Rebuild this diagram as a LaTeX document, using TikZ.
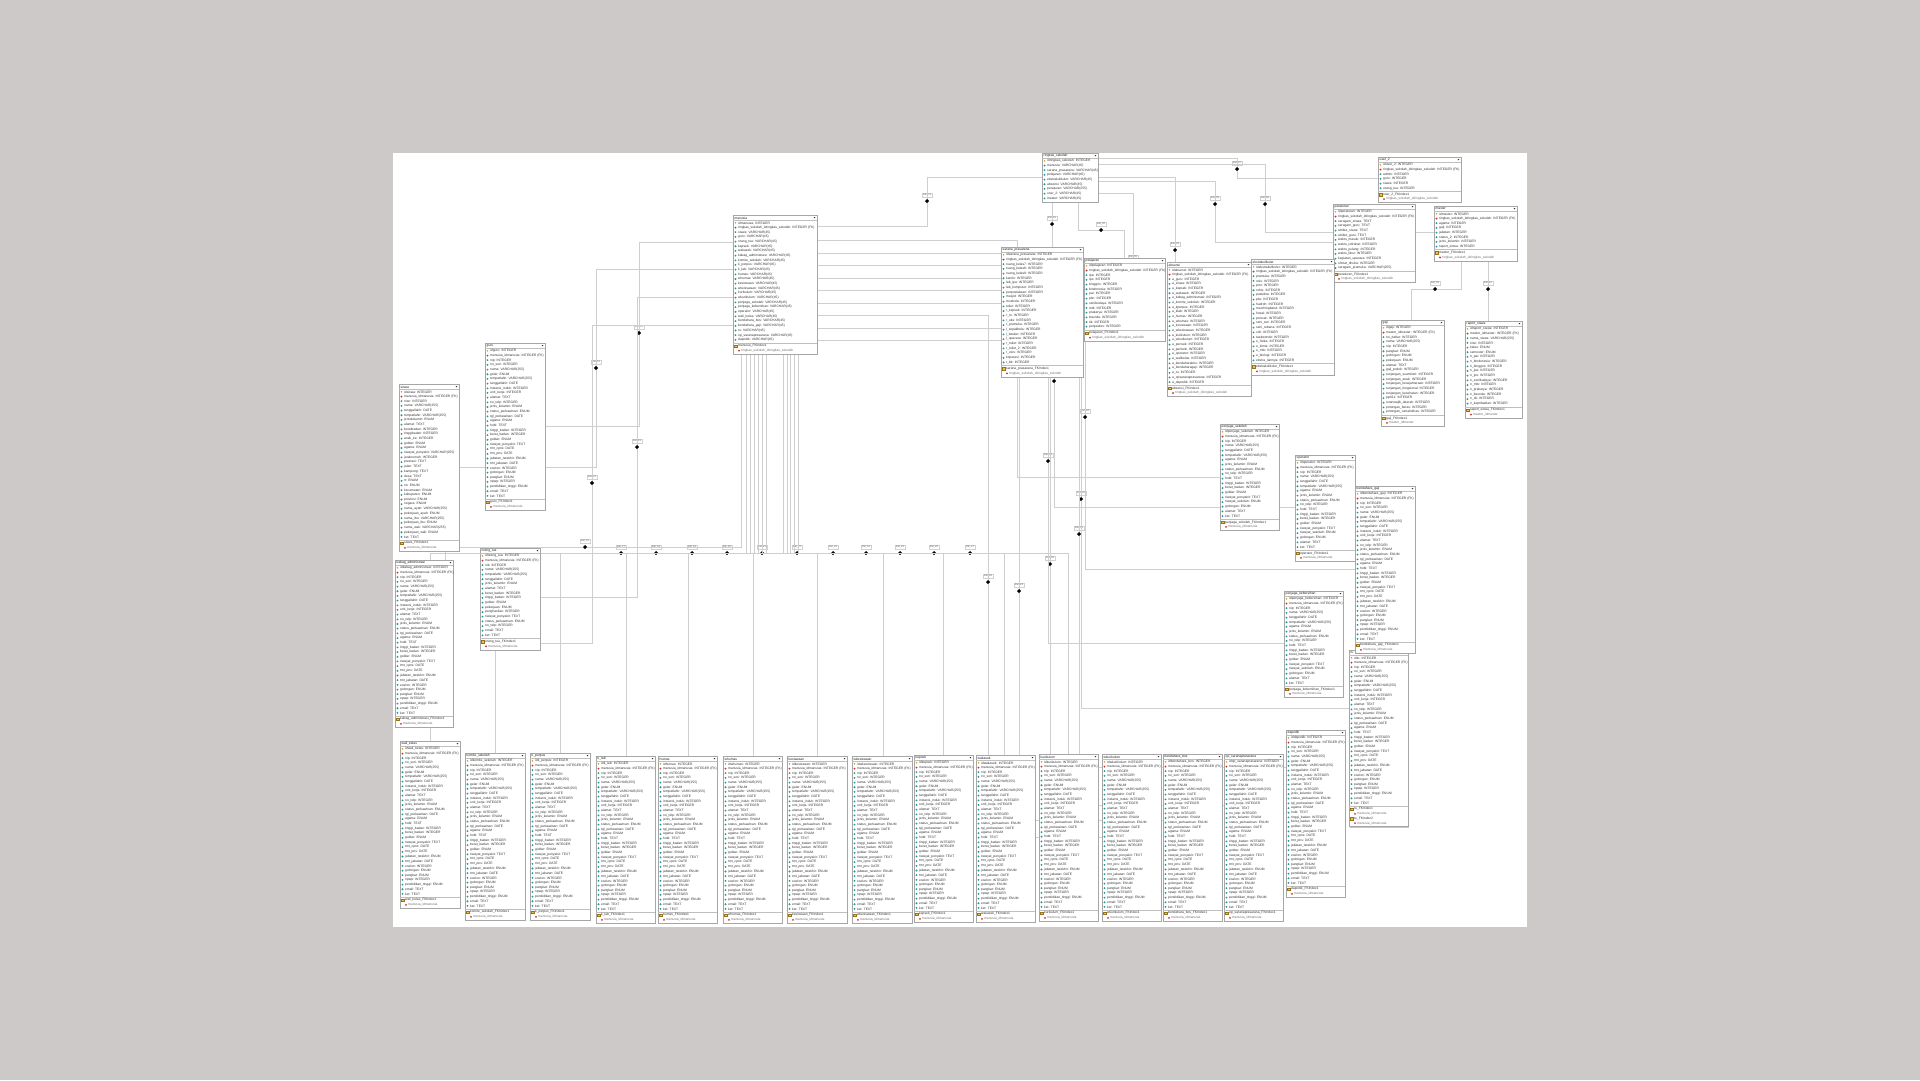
\documentclass[tikz,border=0pt]{standalone}
\usepackage{xcolor}
\usepackage{fontspec}
\usepackage{tikz}
\usetikzlibrary{shapes}
\usetikzlibrary{shadows}
\newfontfamily\erfont{Liberation Sans}
\definecolor{pagebg}{RGB}{205,201,201}
\definecolor{keycol}{RGB}{214,165,35}
\definecolor{fkcol}{RGB}{205,45,45}
\definecolor{atcol}{RGB}{40,150,150}
\definecolor{dircol}{RGB}{240,195,70}
\tikzstyle{tblbox}=[rectangle,draw=black!35,fill=white,line width=0.5pt,inner sep=0pt,drop shadow={shadow xshift=0.8pt,shadow yshift=-0.8pt,fill=black!22,opacity=1}]
\tikzstyle{tblline}=[draw=black!25,line width=0.4pt]
\tikzstyle{rowtxt}=[anchor=west,inner sep=0pt,font=\erfont\fontsize{3.3}{3.6}\selectfont,text=black!80]
\tikzstyle{tbltitle}=[anchor=west,inner sep=0pt,font=\erfont\fontsize{3.3}{3.6}\selectfont,text=black!90]
\tikzstyle{pkicon}=[circle,fill=keycol,inner sep=0pt,minimum size=1.8pt]
\tikzstyle{fkicon}=[diamond,fill=fkcol,inner sep=0pt,minimum size=2.2pt]
\tikzstyle{aticon}=[diamond,fill=atcol,inner sep=0pt,minimum size=2.2pt]
\tikzstyle{ixicon}=[rectangle,fill=dircol,draw=keycol!70!black,line width=0.2pt,inner sep=0pt,minimum width=3pt,minimum height=2.4pt]
\tikzstyle{link}=[draw=black!19,line width=0.9pt]
\tikzstyle{reldia}=[diamond,fill=black,inner sep=0pt,minimum size=4.2pt]
\tikzstyle{rellbl}=[draw=black!18,fill=white,inner sep=0.7pt,line width=0.3pt,font=\erfont\fontsize{2.6}{3}\selectfont,text=black!60]
\pgfdeclarelayer{canvas}
\pgfdeclarelayer{links}
\pgfsetlayers{canvas,links,main}
\newcount\tblattr
\newcount\tblidx
\newcount\tblrow
\def\rowh{4.68}
\catcode`\_=12

% one table: name, x, y (top left), width, rows
\newcommand\dbtable[5]{%
  \global\tblattr=0 \global\tblidx=0 \global\tblrow=0
  \begingroup
    \def\rk##1{\global\advance\tblattr by 1 }%
    \let\rf\rk \let\ra\rk
    \def\ri##1{\global\advance\tblidx by 1 }%
    \let\rc\ri
    #5%
  \endgroup
  \pgfmathsetmacro\tblh{5.5+\the\tblattr*\rowh+1+(\the\tblidx>0)*(1.5+\the\tblidx*\rowh)}%
  \node[tblbox,minimum width=#4,minimum height=\tblh,anchor=north west] (#1) at (#2,#3) {};
  \draw[tblline] (#2,#3+5.5) -- (#2+#4,#3+5.5);
  \node[tbltitle] at (#2+1.5,#3+2.9) {#1};
  \fill[black!80] (#2+#4-3.4,#3+2.2) -- ++(1.8,0) -- ++(-0.9,1.1) -- cycle;
  \ifnum\tblidx>0
    \pgfmathsetmacro\sepy{#3+5.5+\the\tblattr*\rowh+0.75}%
    \draw[tblline] (#2,\sepy) -- (#2+#4,\sepy);
  \fi
  \begingroup
    \def\nextrow##1{\global\advance\tblrow by 1 \pgfmathsetmacro\ry{#3+5.5+(\the\tblrow-0.5)*\rowh+##1}}%
    \def\rk##1{\nextrow{0}\node[pkicon] at (#2+2.5,\ry) {}; \node[rowtxt] at (#2+5,\ry) {##1};}%
    \def\rf##1{\nextrow{0}\node[fkicon] at (#2+2.5,\ry) {}; \node[rowtxt] at (#2+5,\ry) {##1};}%
    \def\ra##1{\nextrow{0}\node[aticon] at (#2+2.5,\ry) {}; \node[rowtxt] at (#2+5,\ry) {##1};}%
    \def\ri##1{\nextrow{1.5}\node[ixicon] at (#2+2.5,\ry) {}; \node[rowtxt] at (#2+5,\ry) {##1};}%
    \def\rc##1{\nextrow{1.5}\node[fkicon] at (#2+6,\ry) {}; \node[rowtxt,text=black!55] at (#2+8,\ry) {##1};}%
    #5%
  \endgroup
}

% staff tables hanging on manusia
\newcommand\staff[5]{\dbtable{#2}{#3}{#4}{#5}{\rk{id#2: INTEGER}\rf{manusia_idmanusia: INTEGER (FK)}#1\ri{#2_FKIndex1}\rc{manusia_idmanusia}}}

\newcommand\relmark[4]{\node[reldia,label={[rellbl,label distance=1.6pt]above:#4}] (#1) at (#2,#3) {};}

\def\pegawai{\ra{nip: INTEGER}\ra{no_seri: INTEGER}\ra{nama: VARCHAR(255)}\ra{gelar: ENUM}\ra{tempatlahir: VARCHAR(255)}\ra{tanggallahir: DATE}\ra{instansi_induk: INTEGER}\ra{unit_kerja: INTEGER}\ra{alamat: TEXT}\ra{no_telp: INTEGER}\ra{jenis_kelamin: ENUM}\ra{status_perkawinan: ENUM}\ra{tgl_perkawinan: DATE}\ra{agama: ENUM}\ra{hobi: TEXT}\ra{tinggi_badan: INTEGER}\ra{berat_badan: INTEGER}\ra{goldar: ENUM}\ra{riwayat_penyakit: TEXT}\ra{tmt_cpns: DATE}\ra{tmt_pns: DATE}\ra{jabatan_terakhir: ENUM}\ra{tmt_jabatan: DATE}\ra{eselon: INTEGER}\ra{golongan: ENUM}\ra{pangkat: ENUM}\ra{npwp: INTEGER}\ra{pendidikan_tinggi: ENUM}\ra{email: TEXT}\ra{ket: TEXT}}

\def\penjaga{\ra{nip: INTEGER}\ra{nama: VARCHAR(255)}\ra{tanggallahir: DATE}\ra{tempatlahir: VARCHAR(255)}\ra{agama: ENUM}\ra{jenis_kelamin: ENUM}\ra{status_perkawinan: ENUM}\ra{no_telp: INTEGER}\ra{hobi: TEXT}\ra{tinggi_badan: INTEGER}\ra{berat_badan: INTEGER}\ra{goldar: ENUM}\ra{riwayat_penyakit: TEXT}\ra{riwayat_sekolah: ENUM}\ra{golongan: ENUM}\ra{alamat: TEXT}\ra{ket: TEXT}}

\begin{document}
\begin{tikzpicture}[x=1pt,y=-1pt]
\begin{pgfonlayer}{canvas}
\fill[pagebg] (0,0) rectangle (1920,1080);
\fill[white] (393,153) rectangle (1527,927);
\end{pgfonlayer}
\useasboundingbox (0,0) rectangle (1920,1080);

%top row
\dbtable{ringkas_sekolah}{1042}{153}{56}{\rk{idringkas_sekolah: INTEGER}\ra{manusia: VARCHAR(45)}\ra{sarana_prasarana: VARCHAR(45)}\ra{pelajaran: VARCHAR(45)}\ra{ekstrakulikuler: VARCHAR(45)}\ra{absensi: VARCHAR(45)}\ra{peraturan: VARCHAR(255)}\ra{user_2: VARCHAR(45)}\ra{master: VARCHAR(45)}}

\dbtable{user_2}{1378}{157}{83}{\rk{iduser_2: INTEGER}\rf{ringkas_sekolah_idringkas_sekolah: INTEGER (FK)}\ra{admin: INTEGER}\ra{guru: INTEGER}\ra{siswa: INTEGER}\ra{orang_tua: INTEGER}\ri{user_2_FKIndex1}\rc{ringkas_sekolah_idringkas_sekolah}}

\dbtable{peraturan}{1333}{204}{82}{\rk{idperaturan: INTEGER}\rf{ringkas_sekolah_idringkas_sekolah: INTEGER (FK)}\ra{seragam_siswa: TEXT}\ra{seragam_guru: TEXT}\ra{atribut_siswa: TEXT}\ra{atribut_guru: TEXT}\ra{waktu_masuk: INTEGER}\ra{waktu_istirahat: INTEGER}\ra{waktu_pulang: INTEGER}\ra{waktu_libur: INTEGER}\ra{kegiatan_upacara: INTEGER}\ra{sholat_dhuha: INTEGER}\ra{seragam_pramuka: VARCHAR(255)}\ri{peraturan_FKIndex1}\rc{ringkas_sekolah_idringkas_sekolah}}

\dbtable{master}{1434}{206}{83}{\rk{idmaster: INTEGER}\rf{ringkas_sekolah_idringkas_sekolah: INTEGER (FK)}\ra{agama: INTEGER}\ra{gaji: INTEGER}\ra{jabatan: INTEGER}\ra{status_2: INTEGER}\ra{jenis_kelamin: INTEGER}\ra{raport_siswa: INTEGER}\ri{master_FKIndex1}\rc{ringkas_sekolah_idringkas_sekolah}}

\dbtable{manusia}{733}{215}{84}{\rk{idmanusia: INTEGER}\rf{ringkas_sekolah_idringkas_sekolah: INTEGER (FK)}\ra{siswa: VARCHAR(45)}\ra{guru: VARCHAR(45)}\ra{orang_tua: VARCHAR(45)}\ra{kepsek: VARCHAR(45)}\ra{wakasek: VARCHAR(45)}\ra{kabag_administrasi: VARCHAR(45)}\ra{komite_sekolah: VARCHAR(45)}\ra{k_perpus: VARCHAR(45)}\ra{k_lab: VARCHAR(45)}\ra{humas: VARCHAR(45)}\ra{whumas: VARCHAR(45)}\ra{kesiswaan: VARCHAR(45)}\ra{wkesiswaan: VARCHAR(45)}\ra{kurikulum: VARCHAR(45)}\ra{wkurikulum: VARCHAR(45)}\ra{penjaga_sekolah: VARCHAR(45)}\ra{penjaga_kebersihan: VARCHAR(45)}\ra{operator: VARCHAR(45)}\ra{wali_kelas: VARCHAR(45)}\ra{bendahara_bos: VARCHAR(45)}\ra{bendahara_gaji: VARCHAR(45)}\ra{tu: VARCHAR(45)}\ra{op_saranaprasarana: VARCHAR(45)}\ra{dapodik: VARCHAR(45)}\ri{manusia_FKIndex1}\rc{ringkas_sekolah_idringkas_sekolah}}

\dbtable{sarana_prasarana}{1001}{247}{82}{\rk{idsarana_prasarana: INTEGER}\rf{ringkas_sekolah_idringkas_sekolah: INTEGER (FK)}\ra{ruang_kelas7: INTEGER}\ra{ruang_kelas8: INTEGER}\ra{ruang_kelas9: INTEGER}\ra{kantin: INTEGER}\ra{lab_ipa: INTEGER}\ra{lab_komputer: INTEGER}\ra{perpustakaan: INTEGER}\ra{masjid: INTEGER}\ra{mushola: INTEGER}\ra{toilet: INTEGER}\ra{r_kepsek: INTEGER}\ra{r_tu: INTEGER}\ra{r_uks: INTEGER}\ra{r_pramuka: INTEGER}\ra{l_sepakbola: INTEGER}\ra{l_basket: INTEGER}\ra{l_upacara: INTEGER}\ra{r_toilet: INTEGER}\ra{r_toilet_2: INTEGER}\ra{r_osis: INTEGER}\ra{koperasi: INTEGER}\ra{r_bk: INTEGER}\ri{sarana_prasarana_FKIndex1}\rc{ringkas_sekolah_idringkas_sekolah}}

\dbtable{pelajaran}{1084}{258}{81}{\rk{idpelajaran: INTEGER}\rf{ringkas_sekolah_idringkas_sekolah: INTEGER (FK)}\ra{ipa: INTEGER}\ra{ips: INTEGER}\ra{binggris: INTEGER}\ra{bindonesia: INTEGER}\ra{pai: INTEGER}\ra{pkn: INTEGER}\ra{senibudaya: INTEGER}\ra{mtk: INTEGER}\ra{prakarya: INTEGER}\ra{bsunda: INTEGER}\ra{tik: INTEGER}\ra{penjaskes: INTEGER}\ri{pelajaran_FKIndex1}\rc{ringkas_sekolah_idringkas_sekolah}}

\dbtable{absensi}{1167}{262}{84}{\rk{idabsensi: INTEGER}\rf{ringkas_sekolah_idringkas_sekolah: INTEGER (FK)}\ra{a_guru: INTEGER}\ra{a_siswa: INTEGER}\ra{a_kepsek: INTEGER}\ra{a_wakasek: INTEGER}\ra{a_kabag_administrasi: INTEGER}\ra{a_komite_sekolah: INTEGER}\ra{a_kperpus: INTEGER}\ra{a_klab: INTEGER}\ra{a_humas: INTEGER}\ra{a_whumas: INTEGER}\ra{a_kesiswaan: INTEGER}\ra{a_wkesiswaan: INTEGER}\ra{a_kurikulum: INTEGER}\ra{a_wkurikulum: INTEGER}\ra{a_pensek: INTEGER}\ra{a_penkeb: INTEGER}\ra{a_operator: INTEGER}\ra{a_walikelas: INTEGER}\ra{a_bendaharabos: INTEGER}\ra{a_bendaharagaji: INTEGER}\ra{a_tu: INTEGER}\ra{a_opsaranaprasarana: INTEGER}\ra{a_dapodik: INTEGER}\ri{absensi_FKIndex1}\rc{ringkas_sekolah_idringkas_sekolah}}

\dbtable{ekstrakulikuler}{1251}{259}{83}{\rk{idekstrakulikuler: INTEGER}\rf{ringkas_sekolah_idringkas_sekolah: INTEGER (FK)}\ra{pramuka: INTEGER}\ra{osis: INTEGER}\ra{pmr: INTEGER}\ra{rohis: INTEGER}\ra{paskibra: INTEGER}\ra{pks: INTEGER}\ra{hadroh: INTEGER}\ra{marchingband: INTEGER}\ra{futsal: INTEGER}\ra{pencak: INTEGER}\ra{seni_tari: INTEGER}\ra{seni_rebana: INTEGER}\ra{voli: INTEGER}\ra{taekwondo: INTEGER}\ra{e_fisika: INTEGER}\ra{e_kimia: INTEGER}\ra{e_mtk: INTEGER}\ra{e_biologi: INTEGER}\ra{ekstra_lainnya: INTEGER}\ri{ekstrakulikuler_FKIndex1}\rc{ringkas_sekolah_idringkas_sekolah}}

\dbtable{gaji}{1381}{320}{63}{\rk{idgaji: INTEGER}\rf{master_idmaster: INTEGER (FK)}\ra{no_daftar: INTEGER}\ra{nama: VARCHAR(255)}\ra{nip: INTEGER}\ra{pangkat: ENUM}\ra{golongan: ENUM}\ra{pekerjaan: ENUM}\ra{alamat: TEXT}\ra{gaji_pokok: INTEGER}\ra{tunjangan_suamiistri: INTEGER}\ra{tunjangan_anak: INTEGER}\ra{tunjangan_kesejahteraan: INTEGER}\ra{tunjangan_fungsional: INTEGER}\ra{tunjangan_kesehatan: INTEGER}\ra{pph21: INTEGER}\ra{iuranwajib_daerah: INTEGER}\ra{potongan_beras: INTEGER}\ra{potongan_rumahdinas: INTEGER}\ri{gaji_FKIndex1}\rc{master_idmaster}}

\dbtable{raport_siswa}{1465}{321}{57}{\rk{idraport_siswa: INTEGER}\rf{master_idmaster: INTEGER (FK)}\ra{nama_siswa: VARCHAR(255)}\ra{nisn: INTEGER}\ra{kelas: ENUM}\ra{semester: ENUM}\ra{n_pai: INTEGER}\ra{n_bindonesia: INTEGER}\ra{n_binggris: INTEGER}\ra{n_ipa: INTEGER}\ra{n_ips: INTEGER}\ra{n_senibudaya: INTEGER}\ra{n_mtk: INTEGER}\ra{n_prakarya: INTEGER}\ra{n_bsunda: INTEGER}\ra{n_tik: INTEGER}\ra{n_kepribadian: INTEGER}\ri{raport_siswa_FKIndex1}\rc{master_idmaster}}

%left side
\staff{\pegawai}{guru}{485}{343}{60}

\dbtable{siswa}{399}{384}{60}{\rk{idsiswa: INTEGER}\rf{manusia_idmanusia: INTEGER (FK)}\ra{nisn: INTEGER}\ra{nama: VARCHAR(255)}\ra{tanggallahir: DATE}\ra{tempatlahir: VARCHAR(255)}\ra{jeniskelamin: ENUM}\ra{alamat: TEXT}\ra{beratbadan: INTEGER}\ra{tinggibadan: INTEGER}\ra{anak_ke: INTEGER}\ra{goldar: ENUM}\ra{agama: ENUM}\ra{riwayat_penyakit: VARCHAR(255)}\ra{jarakrumah: INTEGER}\ra{prestasi: TEXT}\ra{jalan: TEXT}\ra{kampung: TEXT}\ra{desa: TEXT}\ra{rt: ENUM}\ra{rw: ENUM}\ra{kecamatan: ENUM}\ra{kabupaten: ENUM}\ra{provinsi: ENUM}\ra{negara: ENUM}\ra{nama_ayah: VARCHAR(255)}\ra{pekerjaan_ayah: ENUM}\ra{nama_ibu: VARCHAR(255)}\ra{pekerjaan_ibu: ENUM}\ra{nama_wali: VARCHAR(255)}\ra{pekerjaan_wali: ENUM}\ra{ket: TEXT}\ri{siswa_FKIndex1}\rc{manusia_idmanusia}}

\dbtable{orang_tua}{480}{548}{60}{\rk{idorang_tua: INTEGER}\rf{manusia_idmanusia: INTEGER (FK)}\ra{nik: INTEGER}\ra{nama: VARCHAR(255)}\ra{tempatlahir: VARCHAR(255)}\ra{tanggallahir: DATE}\ra{jenis_kelamin: ENUM}\ra{alamat: TEXT}\ra{berat_badan: INTEGER}\ra{tinggi_badan: INTEGER}\ra{goldar: ENUM}\ra{pekerjaan: ENUM}\ra{penghasilan: INTEGER}\ra{riwayat_penyakit: TEXT}\ra{status_perkawinan: ENUM}\ra{no_telp: INTEGER}\ra{email: TEXT}\ra{ket: TEXT}\ri{orang_tua_FKIndex1}\rc{manusia_idmanusia}}

\staff{\pegawai}{kabag_administrasi}{395}{560}{58}

%bottom row
\staff{\pegawai}{wali_kelas}{400}{741}{60}
\staff{\pegawai}{komite_sekolah}{465}{753}{60}
\staff{\pegawai}{k_perpus}{530}{753}{60}
\staff{\pegawai}{k_lab}{596}{756}{59}
\staff{\pegawai}{humas}{658}{756}{59}
\staff{\pegawai}{whumas}{723}{756}{59}
\staff{\pegawai}{kesiswaan}{787}{756}{60}
\staff{\pegawai}{wkesiswaan}{852}{756}{60}
\staff{\pegawai}{kepsek}{914}{755}{59}
\staff{\pegawai}{wakasek}{976}{755}{59}
\staff{\pegawai}{kurikulum}{1039}{754}{59}
\staff{\pegawai}{wkurikulum}{1102}{754}{59}
\staff{\pegawai}{bendahara_bos}{1163}{754}{59}
\staff{\pegawai}{op_saranaprasarana}{1224}{754}{59}
\staff{\pegawai}{dapodik}{1286}{730}{59}

\dbtable{tu}{1349}{650}{59}{\rk{idtu: INTEGER}\rf{manusia_idmanusia: INTEGER (FK)}\pegawai\ri{tu_FKIndex1}\rc{manusia_idmanusia}\ri{tu_FKIndex2}\rc{manusia_idmanusia}}

%right side
\staff{\penjaga}{penjaga_sekolah}{1220}{424}{59}
\staff{\penjaga}{operator}{1295}{455}{60}
\staff{\pegawai}{bendahara_gaji}{1355}{486}{60}
\staff{\penjaga}{penjaga_kebersihan}{1284}{591}{59}

\begin{pgfonlayer}{links}
%ringkas_sekolah
\relmark{rel01}{1052}{224}{Rel_01}
\relmark{rel02}{1101}{230}{Rel_02}
\relmark{rel03}{1175}{250}{Rel_03}
\relmark{rel05}{1133}{263}{Rel_05}
\relmark{rel06}{1215}{204}{Rel_06}
\relmark{rel07}{1237}{169}{Rel_07}
\relmark{rel08}{1265}{204}{Rel_08}
\relmark{rel11}{927}{201}{Rel_11}
\draw[link] (ringkas_sekolah.south -| rel01) -- (rel01) -- (sarana_prasarana.north -| rel01);
\draw[link] (ringkas_sekolah.south -| 1078,0) |- (rel02) -| (pelajaran.north -| 1124,0);
\draw[link] (ringkas_sekolah.east |- 0,177) -| (rel03) -- (absensi.north -| rel03);
\draw[link] (ringkas_sekolah.east |- 0,193) -| (pelajaran.north -| rel05);
\draw[link] (ringkas_sekolah.east |- 0,181) -| (rel06) |- (peraturan.west |- 0,242);
\draw[link] (ringkas_sekolah.east |- 0,158) -| (rel07) |- (user_2.west |- 0,178);
\draw[link] (ringkas_sekolah.east |- 0,164) -| (rel08) |- (master.west |- 0,232);
\draw[link] (ringkas_sekolah.west |- 0,177) -| (rel11) |- (manusia.east |- 0,226);

%master
\relmark{rel09}{1435}{289}{Rel_09}
\relmark{rel10}{1488}{289}{Rel_10}
\draw[link] (master.south -| 1461,0) |- (rel09) -| (gaji.north -| 1411,0);
\draw[link] (master.south -| rel10) -- (rel10) -- (raport_siswa.north -| rel10);

%manusia, left
\relmark{rel12}{596}{368}{Rel_12}
\relmark{rel13}{639}{333}{Rel_13}
\relmark{rel14}{592}{483}{Rel_14}
\relmark{rel15}{637}{447}{Rel_15}
\draw[link] (manusia.west |- 0,242) -| (rel13) |- (guru.east |- 0,426);
\draw[link] (manusia.west |- 0,269) -| (rel12) |- (siswa.east |- 0,467);
\draw[link] (manusia.west |- 0,297) -| (rel15) |- (orang_tua.east |- 0,597);
\draw[link] (manusia.west |- 0,325) -| (rel14) |- (orang_tua.east |- 0,643);

%manusia, bottom
\relmark{rel16}{585}{547}{Rel_16}
\relmark{rel17}{621}{553}{Rel_17}
\relmark{rel18}{656}{553}{Rel_18}
\relmark{rel19}{692}{553}{Rel_19}
\relmark{rel20}{727}{553}{Rel_20}
\relmark{rel21}{762}{553}{Rel_21}
\relmark{rel22}{797}{553}{Rel_22}
\relmark{rel23}{833}{553}{Rel_23}
\relmark{rel24}{866}{553}{Rel_24}
\relmark{rel25}{900}{553}{Rel_25}
\relmark{rel26}{934}{553}{Rel_26}
\relmark{rel27}{970}{553}{Rel_27}
\draw[link] (manusia.south -| 741,0) |- (rel16) -| (kabag_administrasi.north -| 445,0);
\draw[link] (manusia.south -| 746,0) |- (rel17) -| (wali_kelas.north -| 430,0);
\draw[link] (manusia.south -| 750,0) |- (rel18) -| (komite_sekolah.north -| 495,0);
\draw[link] (manusia.south -| 754,0) |- (rel19) -| (k_perpus.north -| 560,0);
\draw[link] (manusia.south -| 758,0) |- (rel20) -| (k_lab.north -| 626,0);
\draw[link] (manusia.south -| 762,0) |- (rel21) -| (humas.north -| 688,0);
\draw[link] (manusia.south -| 766,0) |- (rel22) -| (whumas.north -| 753,0);
\draw[link] (manusia.south -| 783,0) |- (rel23) -| (kesiswaan.north -| 817,0);
\draw[link] (manusia.south -| 787,0) |- (rel24) -| (wkesiswaan.north -| 883,0);
\draw[link] (manusia.south -| 790,0) |- (rel25) -| (kepsek.north -| 943,0);
\draw[link] (manusia.south -| 794,0) |- (rel26) -| (wakasek.north -| 1004,0);
\draw[link] (manusia.south -| 798,0) |- (rel27) -| (kurikulum.north -| 1068,0);

%manusia, right
\relmark{rel28}{988}{582}{Rel_28}
\relmark{rel29}{1019}{591}{Rel_29}
\relmark{rel30}{1050}{564}{Rel_30}
\relmark{rel31}{1081}{499}{Rel_31}
\relmark{rel32}{1079}{534}{Rel_32}
\relmark{rel33}{1048}{461}{Rel_33}
\relmark{rel34}{1085}{417}{Rel_34}
\relmark{rel35}{1017}{366}{Rel_35}
\relmark{rel36}{1054}{381}{Rel_36}
\draw[link] (manusia.east |- 0,240) -| (rel35) |- (penjaga_sekolah.west |- 0,477);
\draw[link] (manusia.east |- 0,253) -| (rel36) |- (operator.west |- 0,507);
\draw[link] (manusia.east |- 0,265) -| (rel34) |- (bendahara_gaji.west |- 0,569);
\draw[link] (manusia.east |- 0,278) -| (rel33) |- (penjaga_kebersihan.west |- 0,643);
\draw[link] (manusia.east |- 0,290) -| (rel31) |- (tu.west |- 0,708);
\draw[link] (manusia.east |- 0,303) -| (rel32) |- (dapodik.west |- 0,767);
\draw[link] (manusia.east |- 0,315) -| (rel28) |- (wkurikulum.west |- 0,837);
\draw[link] (manusia.east |- 0,328) -| (rel29) |- (bendahara_bos.west |- 0,820);
\draw[link] (manusia.east |- 0,340) -| (rel30) |- (op_saranaprasarana.west |- 0,805);
\end{pgfonlayer}
\end{tikzpicture}
\end{document}
